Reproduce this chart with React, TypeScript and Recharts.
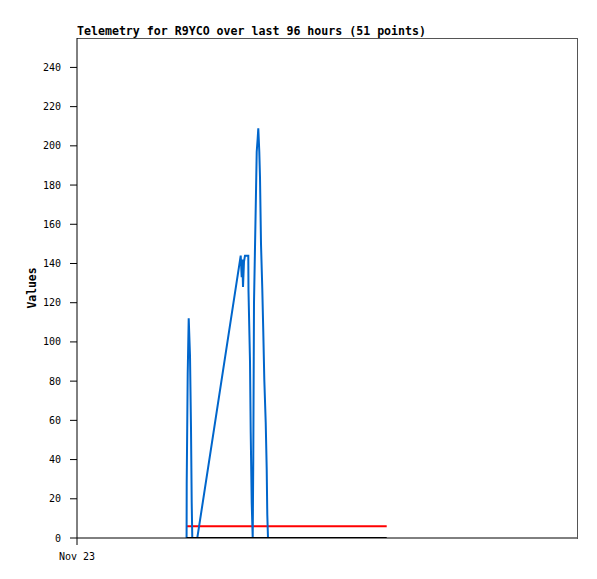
import React from 'react';
import { LineChart, Line, XAxis, YAxis } from 'recharts';

// time axis is in hours since Nov 23 00:00
const blueHours = [
  52.6, 52.66, 53.14, 53.62, 54.24, 54.72, 55.06, 55.34, 57.74,
  78.58, 79.06, 79.34, 79.68, 80.16, 80.64, 82.22, 82.32, 83.04, 83.38, 83.86, 84.34,
  84.62, 84.96, 85.78, 86.26, 86.74, 87.02, 87.5, 87.84, 88.32, 88.94, 89.42, 89.9,
  90.58, 91.06, 91.34, 91.68,
];
const blueValues = [
  0, 28, 84, 112, 93, 56, 18, 0, 0,
  144, 133, 142, 128, 141, 144, 144, 126, 90, 54, 18, 0,
  41, 120, 168, 197, 204, 209, 197, 184, 150, 127, 105, 81,
  59, 35, 12, 0,
];
const flatHours = [52.66, 148.66];
const redValues = [6, 6];
const blackValues = [0, 0];

const yTicks = [0, 20, 40, 60, 80, 100, 120, 140, 160, 180, 200, 220, 240];
const xTicks = [0];
const xTickLabels = ['Nov 23'];

const blueData = blueHours.map((t, i) => ({ t, v: blueValues[i] }));
const redData = flatHours.map((t, i) => ({ t, v: redValues[i] }));
const blackData = flatHours.map((t, i) => ({ t, v: blackValues[i] }));

const FONT = '"DejaVu Sans Mono", monospace';

export default function App() {
  return (
    <div style={{ position: 'relative', width: 581, height: 563 }}>
      <div
        style={{
          position: 'absolute',
          left: 69,
          top: 17,
          fontFamily: FONT,
          fontSize: 11.6,
          fontWeight: 'bold',
          lineHeight: '12px',
          whiteSpace: 'nowrap',
          color: '#000',
        }}
      >
        Telemetry for R9YCO over last 96 hours (51 points)
      </div>
      {/* top and right edges of the frame */}
      <div
        style={{
          position: 'absolute',
          left: 69,
          top: 30,
          width: 500,
          height: 500,
          borderTop: '1px solid #555',
          borderRight: '1px solid #555',
          pointerEvents: 'none',
        }}
      />
      <LineChart width={581} height={563} margin={{ top: 30, right: 12, left: 0, bottom: 0 }}>
        <XAxis
          dataKey="t"
          type="number"
          domain={[0, 240]}
          ticks={xTicks}
          tickFormatter={(v: number) => xTickLabels[xTicks.indexOf(v)] ?? ''}
          height={33}
          tickSize={7}
          tickMargin={8}
          stroke="#000"
          tick={{ fill: '#000', fontFamily: FONT, fontSize: 10 }}
          allowDataOverflow
        />
        <YAxis
          type="number"
          domain={[0, 255]}
          ticks={yTicks}
          width={69}
          tickSize={7}
          tickMargin={9}
          stroke="#000"
          tick={{ fill: '#000', fontFamily: FONT, fontSize: 10 }}
          label={{
            value: 'Values',
            angle: -90,
            position: 'insideLeft',
            offset: 24,
            style: { textAnchor: 'middle', fontFamily: FONT, fontSize: 11.4, fontWeight: 'bold', fill: '#000' },
          }}
          allowDataOverflow
        />
        <Line
          data={redData}
          dataKey="v"
          stroke="#ff0000"
          strokeWidth={2}
          dot={false}
          isAnimationActive={false}
        />
        <Line
          data={blueData}
          dataKey="v"
          stroke="#0066cc"
          strokeWidth={2}
          dot={false}
          strokeLinejoin="miter"
          isAnimationActive={false}
        />
        <Line
          data={blackData}
          dataKey="v"
          stroke="#000"
          strokeWidth={2}
          dot={false}
          isAnimationActive={false}
        />
      </LineChart>
    </div>
  );
}
